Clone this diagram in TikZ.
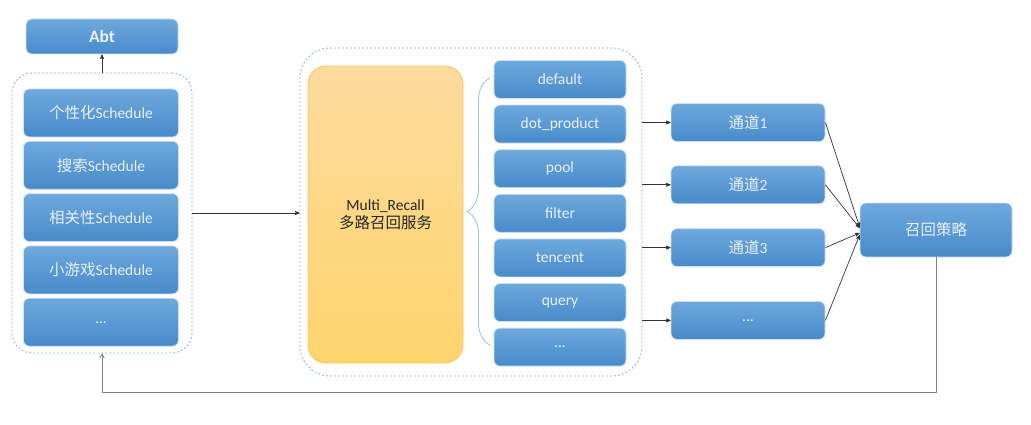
\documentclass[tikz,border=0pt]{standalone}
\usepackage{fontspec}
\setmainfont{Carlito}
\newfontfamily\cjk{Noto Sans CJK SC}
\usetikzlibrary{arrows,positioning,decorations.pathreplacing}
\definecolor{boxtop}{HTML}{6EA8DD}
\definecolor{boxbot}{HTML}{478ACB}
\definecolor{boxrim}{HTML}{CFE0F2}
\definecolor{boxtext}{HTML}{EAF1FA}
\definecolor{dashblue}{HTML}{8CAFD3}
\definecolor{ytop}{HTML}{FDDB9E}
\definecolor{ybot}{HTML}{FFD36C}
\definecolor{yrim}{HTML}{F7C75E}
\definecolor{wirecol}{HTML}{333333}
\definecolor{backcol}{HTML}{808080}
\definecolor{bracecol}{HTML}{9DC3E6}

\begin{document}
\begin{tikzpicture}[x=1pt,y=-1pt,>=stealth',
                font=\fontsize{15.5}{18}\selectfont,
                blue box/.style={rectangle,rounded corners=6pt,draw=boxrim,line width=0.8pt,
                  top color=boxtop,bottom color=boxbot,text=boxtext,inner sep=0pt},
                sched/.style={blue box,minimum width=155pt,minimum height=48pt},
                algo/.style={blue box,minimum width=132pt,minimum height=38pt},
                chan/.style={blue box,minimum width=154pt,minimum height=38pt},
                group box/.style={rectangle,draw=dashblue,dash pattern=on 2pt off 2pt,
                  line width=0.8pt,inner sep=0pt},
                wire/.style={draw=wirecol,line width=0.7pt,->}]
                \useasboundingbox (0,0) rectangle (1031,425);

                % left column
                \node[blue box,minimum width=152pt,minimum height=35pt,
                      font=\fontsize{17.5}{20}\selectfont\bfseries] (abt) at (102,36.5) {Abt};
                \node[sched] (s1) at (101,113) {{\cjk 个性化}Schedule};
                \node[sched] (s2) [below=3.5pt of s1] {{\cjk 搜索}Schedule};
                \node[sched] (s3) [below=3.5pt of s2] {{\cjk 相关性}Schedule};
                \node[sched] (s4) [below=3.5pt of s3] {{\cjk 小游戏}Schedule};
                \node[sched] (s5) [below=3.5pt of s4] {...};
                \node[group box,rounded corners=20pt,minimum width=180pt,minimum height=280pt]
                      (left) at (102,213) {};

                % recall service
                \node[group box,rounded corners=30pt,minimum width=342pt,minimum height=328pt]
                      (mid) at (471,212) {};
                \node[rectangle,rounded corners=18pt,draw=yrim,line width=0.8pt,
                      top color=ytop,bottom color=ybot,text=black!85,align=center,
                      minimum width=155pt,minimum height=297pt] (recall) at (385.5,214.5)
                      {Multi\_Recall\\{\cjk 多路召回服务}};
                \node[algo] (r1) at (560,79.5) {default};
                \node[algo] (r2) [below=5.8pt of r1] {dot\_product};
                \node[algo] (r3) [below=5.8pt of r2] {pool};
                \node[algo] (r4) [below=5.8pt of r3] {filter};
                \node[algo] (r5) [below=5.8pt of r4] {tencent};
                \node[algo] (r6) [below=5.8pt of r5] {query};
                \node[algo] (r7) [below=5.8pt of r6] {...};
                \coordinate (bracebot) at (490,345);
                \coordinate (bracetop) at (490,78);
                \draw[bracecol,line width=0.9pt,decorate,decoration={brace,amplitude=23pt,aspect=0.5}]
                      (bracebot) -- (bracetop);

                % channels
                \node[chan] (ch1) at (748,122.5) {{\cjk 通道}1};
                \node[chan] (ch2) [below=23.5pt of ch1] {{\cjk 通道}2};
                \node[chan] (ch3) [below=24pt of ch2] {{\cjk 通道}3};
                \node[chan] (ch4) [below=34pt of ch3] {...};
                \node[blue box,minimum width=152pt,minimum height=54pt] (policy) at (936,230)
                      {\cjk 召回策略};

                \draw[wire] (left.north) -- (abt.south);
                \draw[wire] (left.east) -- (left.east -| mid.west);
                \foreach \c in {ch1,ch2,ch3,ch4}
                  \draw[wire] (mid.east |- \c.west) -- (\c.west);
                \draw[wire] (ch1.east) -- ([yshift=3pt]policy.west);
                \draw[wire] (ch2.east) -- ([yshift=2pt]policy.west);
                \draw[wire] (ch3.east) -- ([yshift=-3pt]policy.west);
                \draw[wire] (ch4.east) -- ([yshift=-5pt]policy.west);
                \draw[backcol,line width=0.8pt,-angle 60] (policy.south) -- ++(0,135) -| (left.south);
\end{tikzpicture}
\end{document}
